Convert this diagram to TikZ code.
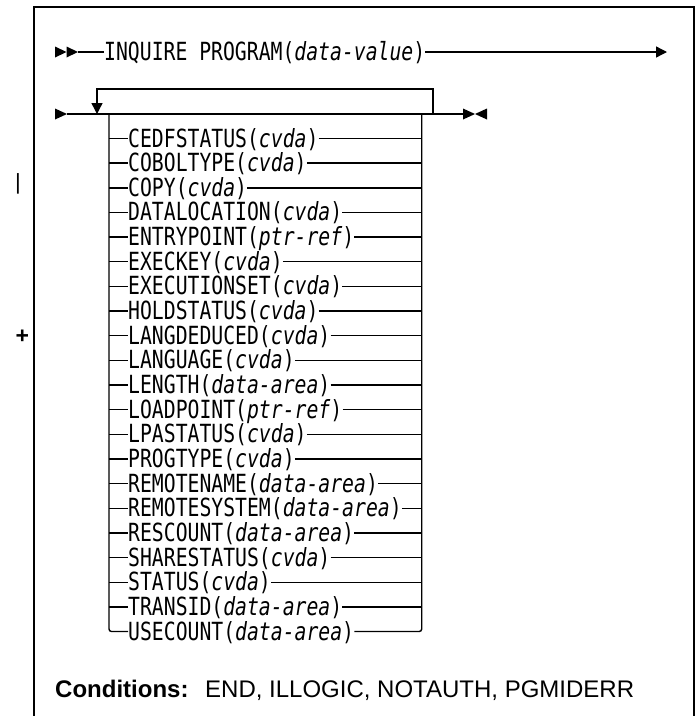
\documentclass[tikz,border=0pt]{standalone}
\usepackage{fontspec}
\setsansfont{Liberation Sans}
\newfontfamily\synfont[FakeStretch=0.79]{DejaVu Sans Mono}
\usetikzlibrary{arrows.meta}
\tikzset{
  rail/.style={line width=1.4pt},
  syn/.style={font=\synfont\fontsize{25}{30}\selectfont, inner sep=0pt, anchor=base west},
  cond/.style={font=\sffamily\fontsize{24}{28}\selectfont, inner sep=0pt, anchor=base west},
  mark/.style={font=\sffamily\fontsize{#1}{#1}\selectfont, inner sep=0pt},
  tip/.style={-{Triangle[length=11pt,width=11pt]}},
}
\begin{document}
\begin{tikzpicture}[x=1pt,y=-1pt]
\useasboundingbox (0,0) rectangle (699,716);

% open frame
\draw[rail] (34,716) -- (34,7) -- (694,7) -- (694,716);

% revision marks in the margin
\node[mark=22] (rev1) at (18,184) {|};
\node[mark=23,font=\sffamily\bfseries\fontsize{23}{23}\selectfont] (rev2) at (22.3,337) {+};

% ---- first line: INQUIRE PROGRAM(data-value)
\coordinate (s1) at (55,52);
\coordinate (a0) at (78,52);
\coordinate (a1) at (667,52);
\fill (s1) ++(0,-5.5) -- ++(11.5,5.5) -- ++(-11.5,5.5) -- cycle;
\fill (s1) ++(11.5,-5.5) -- ++(11.5,5.5) -- ++(-11.5,5.5) -- cycle;
\node[syn] (cmd) at (104,60) {INQUIRE PROGRAM(\textit{data-value})};
\draw[rail] (a0) -- (a0 -| cmd.west);
\draw[rail,tip] (cmd.east |- a1) -- (a1);

% ---- second line: repeatable option group
\coordinate (s2) at (55,114);
\coordinate (b0) at (67,114);
\coordinate (b1) at (463,114);
\coordinate (loopR) at (433,114);
\coordinate (loopL) at (97,114);
\coordinate (topL) at (109,114);
\coordinate (topR) at (421.7,114);
\fill (s2) ++(0,-5.5) -- ++(12,5.5) -- ++(-12,5.5) -- cycle;
\draw[rail] (b0) -- (b1);
\fill (b1) ++(0,-5.5) -- ++(12,5.5) -- ++(-12,5.5) -- cycle;
\fill (b1) ++(24,-5.5) -- ++(-12,5.5) -- ++(12,5.5) -- cycle;
% repeat loop
\draw[rail,tip] (loopR) -- ++(0,-25) -| (loopL);

% options
\foreach [count=\i from 0] \kw/\pa in {
  CEDFSTATUS/cvda, COBOLTYPE/cvda, COPY/cvda, DATALOCATION/cvda,
  ENTRYPOINT/ptr-ref, EXECKEY/cvda, EXECUTIONSET/cvda, HOLDSTATUS/cvda,
  LANGDEDUCED/cvda, LANGUAGE/cvda, LENGTH/data-area, LOADPOINT/ptr-ref,
  LPASTATUS/cvda, PROGTYPE/cvda, REMOTENAME/data-area,
  REMOTESYSTEM/data-area, RESCOUNT/data-area, SHARESTATUS/cvda,
  STATUS/cvda, TRANSID/data-area, USECOUNT/data-area} {
  \pgfmathsetmacro\yy{138.5+24.65*\i}
  \coordinate (L\i) at (109,\yy);
  \coordinate (R\i) at (421.7,\yy);
  \node[syn] (t\i) at (128,{\yy+8.5}) {\kw(\textit{\pa})};
  \ifnum\i<20
    \draw[rail] (L\i) -- (L\i -| t\i.west);
    \draw[rail] (t\i.east |- R\i) -- (R\i);
  \fi
}
% side rails
\draw[rail,rounded corners=2.5pt] (topL) -- (L20) -- (L20 -| t20.west);
\draw[rail,rounded corners=2.5pt] (t20.east |- R20) -- (R20) -- (topR);

% conditions
\node[cond,font=\sffamily\bfseries\fontsize{24}{28}\selectfont] (condh) at (55,697) {Conditions:};
\node[cond] (condl) at (205,697) {END, ILLOGIC, NOTAUTH, PGMIDERR};
\end{tikzpicture}
\end{document}
